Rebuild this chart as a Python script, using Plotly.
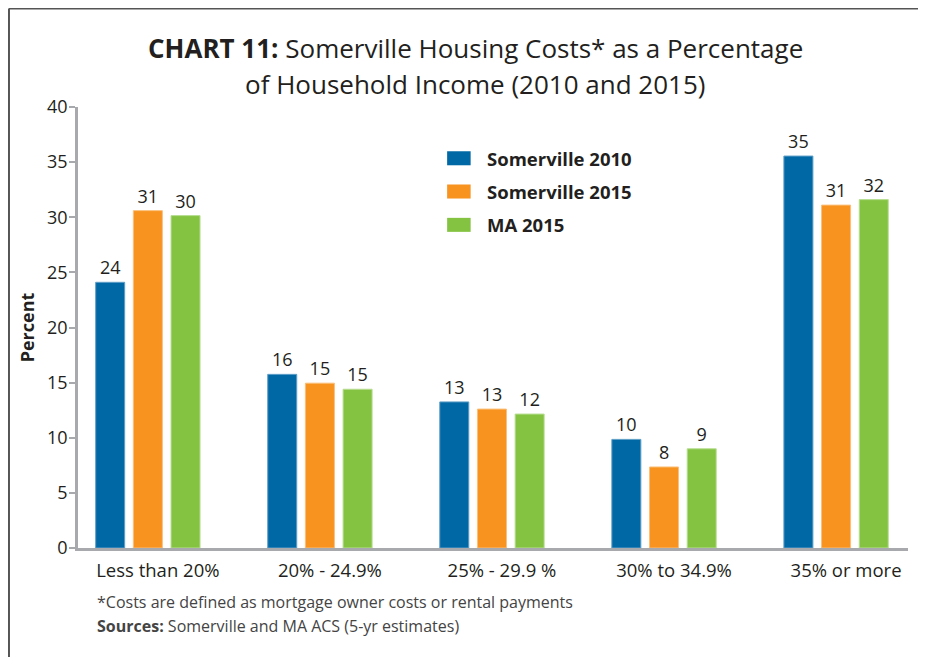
import plotly.graph_objects as go

categories = ["Less than 20%", "20% - 24.9%", "25% - 29.9 %", "30% to 34.9%", "35% or more"]
series_names = ["Somerville 2010", "Somerville 2015", "MA 2015"]
som_2010 = [24.1, 15.75, 13.25, 9.85, 35.55]
som_2015 = [30.6, 14.95, 12.6, 7.35, 31.1]
ma_2015 = [30.15, 14.4, 12.15, 9.0, 31.6]
lbl_2010 = ["24", "16", "13", "10", "35"]
lbl_2015 = ["31", "15", "13", "8", "31"]
lbl_ma = ["30", "15", "12", "9", "32"]
y_ticks = [0, 5, 10, 15, 20, 25, 30, 35, 40]

colors = ["#0068a5", "#f7931e", "#84c341"]
edge = ["#5f9fc8", "#fbbf7a", "#b8de93"]
FONT = "Open Sans"
TXT = "#231f20"

# page body has an 8px margin: the figure is sized/offset so it lands on the window
OFF = 8
W, H = 926 - OFF, 657 - OFF
# plot area in window pixels: x 78..907.7, y 107.3..547.7
PL, PR, PT, PB = 78, 907.7, 107.3, 547.7
ML, MR, MT, MB = PL - OFF, 926 - PR, PT - OFF, 657 - PB
PW, PH = PR - PL, PB - PT

def px(x):
    return (x - PL) / PW

def py(y):
    return (PB - y) / PH

fig = go.Figure()
for name, vals, lbls, c, e in zip(series_names, [som_2010, som_2015, ma_2015],
                                   [lbl_2010, lbl_2015, lbl_ma], colors, edge):
    fig.add_trace(go.Bar(
        x=categories, y=vals, name=name, text=lbls,
        textposition="outside", cliponaxis=False,
        textfont=dict(family=FONT, size=18, color=TXT),
        marker=dict(color=c, line=dict(color=e, width=1)),
        showlegend=False,
    ))

shapes = [
    dict(type="line", xref="paper", yref="paper", x0=px(9), x1=px(930), y0=py(9), y1=py(9),
         line=dict(color="#555555", width=2)),
    dict(type="line", xref="paper", yref="paper", x0=px(9), x1=px(9), y0=py(9), y1=py(665),
         line=dict(color="#555555", width=2)),
]
annotations = []
leg_y = [158.5, 191.7, 225]
for name, c, yy in zip(series_names, colors, leg_y):
    shapes.append(dict(type="rect", xref="paper", yref="paper",
                       x0=px(447), x1=px(470.5), y0=py(yy - 7), y1=py(yy + 7),
                       fillcolor=c, line=dict(width=0)))
    annotations.append(dict(xref="paper", yref="paper", x=px(485), y=py(yy), xanchor="left",
                            yanchor="middle", showarrow=False, text="<b>%s</b>" % name,
                            font=dict(family=FONT, size=18.5, color=TXT)))

annotations.append(dict(xref="paper", yref="paper", x=px(475), y=py(48), xanchor="center",
                        yanchor="middle", showarrow=False,
                        text="<b>CHART 11:</b> Somerville Housing Costs* as a Percentage",
                        font=dict(family=FONT, size=26, color=TXT)))
annotations.append(dict(xref="paper", yref="paper", x=px(475), y=py(84), xanchor="center",
                        yanchor="middle", showarrow=False,
                        text="of Household Income (2010 and 2015)",
                        font=dict(family=FONT, size=26, color=TXT)))
annotations.append(dict(xref="paper", yref="paper", x=px(95), y=py(602), xanchor="left",
                        yanchor="middle", showarrow=False,
                        text="*Costs are defined as mortgage owner costs or rental payments",
                        font=dict(family=FONT, size=16, color="#444444")))
annotations.append(dict(xref="paper", yref="paper", x=px(95), y=py(626), xanchor="left",
                        yanchor="middle", showarrow=False,
                        text="<b>Sources:</b> Somerville and MA ACS (5-yr estimates)",
                        font=dict(family=FONT, size=16, color="#444444")))

fig.update_layout(
    width=W, height=H, autosize=False,
    margin=dict(l=ML, r=MR, t=MT, b=MB, pad=0),
    paper_bgcolor="white", plot_bgcolor="white",
    barmode="group", bargap=0.343, bargroupgap=0.23,
    font=dict(family=FONT, color=TXT),
    shapes=shapes, annotations=annotations,
    xaxis=dict(type="category", range=[-0.406, 4.418], showline=True, linecolor="#a7a9ac",
               linewidth=2.5, ticks="outside", ticklen=4, tickcolor="rgba(0,0,0,0)",
               showgrid=False, zeroline=False, ticklabelshift=10,
               tickfont=dict(family=FONT, size=18.5, color=TXT)),
    yaxis=dict(range=[0, 40], tickvals=y_ticks, showline=True, linecolor="#a7a9ac", linewidth=2.5,
               ticks="outside", ticklen=6, tickwidth=2, tickcolor="#a7a9ac",
               showgrid=False, zeroline=False, ticklabelstandoff=-2,
               tickfont=dict(family=FONT, size=18, color=TXT),
               title=dict(text="<b>Percent</b>", standoff=8,
                          font=dict(family=FONT, size=18, color=TXT))),
)

fig.write_html("out.html")
